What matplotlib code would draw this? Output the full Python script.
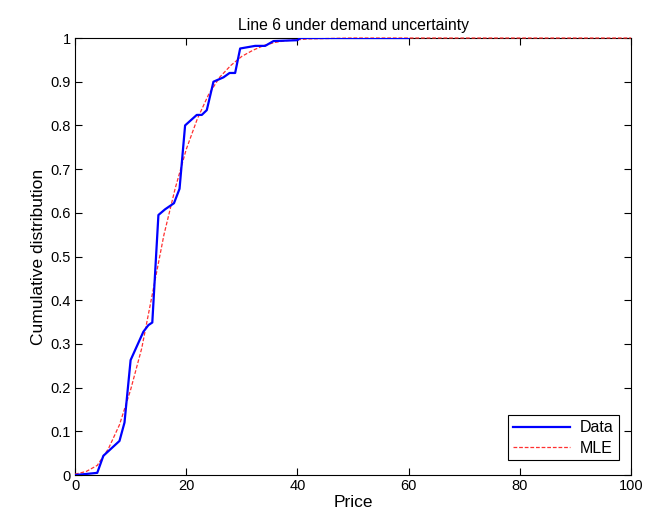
import matplotlib
matplotlib.use("Agg")
import matplotlib.pyplot as plt

# empirical CDF (blue)
data_x = [0, 2.5, 4, 5.1, 8, 8.9, 10, 12.3, 13.2, 13.9, 15, 16.2, 17.8, 18.8,
          19.8, 21.9, 22.8, 23.7, 24.9, 26.7, 27.8, 28.8, 29.7, 32.4, 34.2,
          35.7, 40, 40.5, 60]
data_y = [0, 0.003, 0.005, 0.044, 0.078, 0.12, 0.263, 0.328, 0.343, 0.349,
          0.595, 0.608, 0.622, 0.655, 0.80, 0.824, 0.824, 0.835, 0.90, 0.91,
          0.92, 0.92, 0.976, 0.982, 0.982, 0.993, 0.995, 1.0, 1.0]

# fitted CDF (red dashed)
mle_x = [0, 2, 4, 6, 8, 10, 12, 14, 16, 18, 20, 22, 24, 26, 28, 30, 32, 34,
         36, 38, 42, 50, 100]
mle_y = [0.002, 0.008, 0.022, 0.06, 0.115, 0.195, 0.29, 0.42, 0.55, 0.655,
         0.745, 0.815, 0.87, 0.91, 0.937, 0.958, 0.972, 0.983, 0.99, 0.994,
         0.998, 1.0, 1.0]

plt.rcParams["font.family"] = ["Liberation Sans", "DejaVu Sans"]
plt.rcParams["font.size"] = 10

fig = plt.figure(figsize=(6.5, 5.25), dpi=100, facecolor="white")
ax = fig.add_axes([0.1154, 0.0952, 0.8554, 0.8324])

# lines drawn above the spines, like MATLAB does
ax.plot(mle_x, mle_y, color="#ff3030", linestyle="--", linewidth=0.9,
        dashes=(3, 1.5), label="MLE", zorder=3, clip_on=False)
ax.plot(data_x, data_y, color="#0000ff", linewidth=1.6, label="Data",
        zorder=3.1)

ax.set_xlim(0, 100)
ax.set_ylim(0, 1)
ax.set_xticks(range(0, 101, 20))
ax.set_yticks([i / 10 for i in range(11)])
ax.set_yticklabels(["0"] + [f"{i / 10:g}" for i in range(1, 10)] + ["1"])
ax.tick_params(direction="in", top=True, right=True, length=5, width=0.8,
               labelsize=10.5, pad=3)
for sp in ax.spines.values():
    sp.set_linewidth(0.8)

ax.set_xlabel("Price", fontsize=12.5, labelpad=1)
ax.set_ylabel("Cumulative distribution", fontsize=12.5, labelpad=3)
ax.set_title("Line 6 under demand uncertainty", fontsize=11.3, pad=6)

handles, labels = ax.get_legend_handles_labels()
leg = ax.legend(handles[::-1], labels[::-1], loc="lower right",
                fancybox=False, framealpha=1, edgecolor="black",
                fontsize=11.5, borderpad=0.3, handlelength=3.6,
                labelspacing=0.35, handletextpad=0.6,
                bbox_to_anchor=(0.992, 0.015))
leg.get_frame().set_linewidth(0.8)

fig.savefig("out.png", dpi=100, facecolor="white")
